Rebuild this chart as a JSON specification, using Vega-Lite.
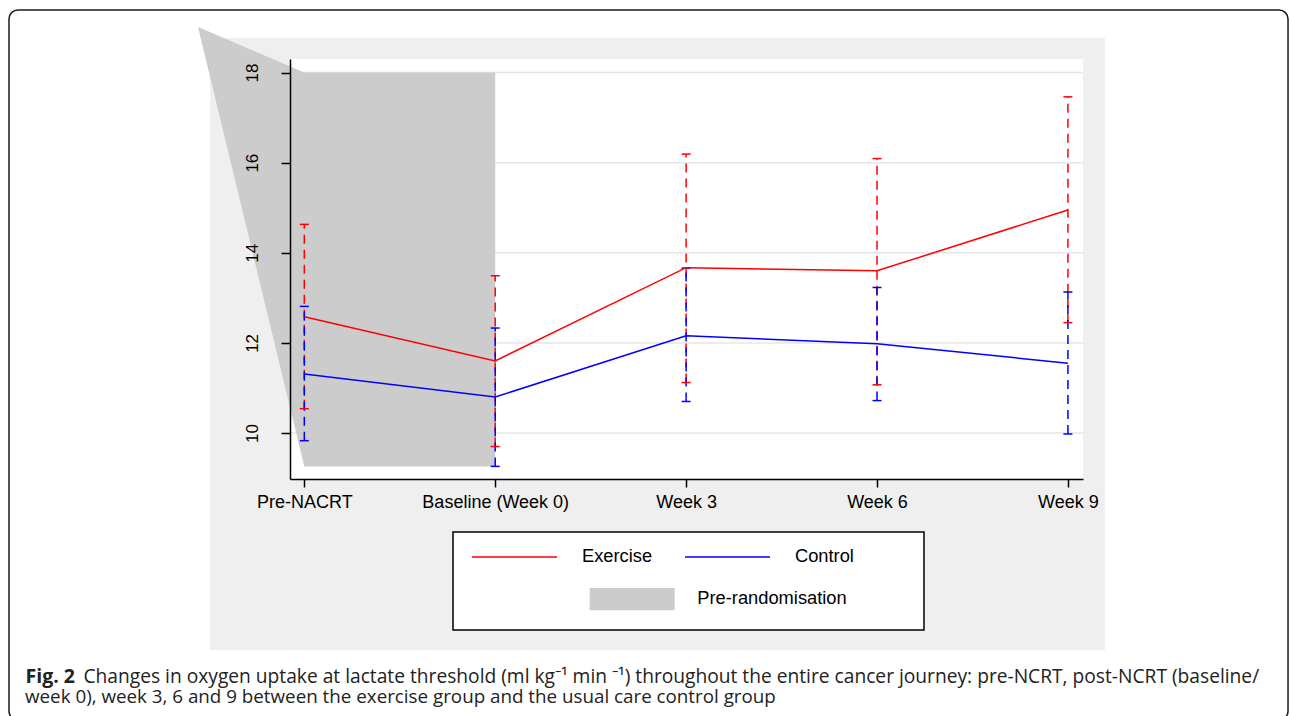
{
  "$schema": "https://vega.github.io/schema/vega-lite/v6.json",
  "width": 793,
  "height": 420,
  "autosize": {"type": "none"},
  "padding": {"left": 290, "top": 59, "right": 207, "bottom": 237},
  "background": "white",
  "config": {"view": {"stroke": null, "fill": "white"}},
  "title": {
    "text": "week 0), week 3, 6 and 9 between the exercise group and the usual care control group",
    "orient": "bottom", "anchor": "start", "frame": "group",
    "font": "Open Sans", "fontSize": 18.8, "fontWeight": "normal", "color": "#222222",
    "baseline": "alphabetic", "offset": 0, "dx": -265, "dy": -18
  },
  "datasets": {
    "series": [
      {"time": "Pre-NACRT", "idx": 0, "group": "Exercise", "mean": 12.58, "lo": 10.54, "hi": 14.63},
      {"time": "Baseline (Week 0)", "idx": 1, "group": "Exercise", "mean": 11.60, "lo": 9.70, "hi": 13.49},
      {"time": "Week 3", "idx": 2, "group": "Exercise", "mean": 13.67, "lo": 11.12, "hi": 16.19},
      {"time": "Week 6", "idx": 3, "group": "Exercise", "mean": 13.60, "lo": 11.07, "hi": 16.09},
      {"time": "Week 9", "idx": 4, "group": "Exercise", "mean": 14.95, "lo": 12.45, "hi": 17.46},
      {"time": "Pre-NACRT", "idx": 0, "group": "Control", "mean": 11.31, "lo": 9.83, "hi": 12.81},
      {"time": "Baseline (Week 0)", "idx": 1, "group": "Control", "mean": 10.80, "lo": 9.26, "hi": 12.33},
      {"time": "Week 3", "idx": 2, "group": "Control", "mean": 12.16, "lo": 10.70, "hi": 13.66},
      {"time": "Week 6", "idx": 3, "group": "Control", "mean": 11.98, "lo": 10.72, "hi": 13.23},
      {"time": "Week 9", "idx": 4, "group": "Control", "mean": 11.55, "lo": 9.98, "hi": 13.13}
    ],
    "shade": [
      {"idx": -0.557, "group": "Pre-randomisation", "top": 19.01, "bottom": 19.01},
      {"idx": 0, "group": "Pre-randomisation", "top": 18, "bottom": 9.26},
      {"idx": 1, "group": "Pre-randomisation", "top": 18, "bottom": 9.26}
    ],
    "grid": [{"g": 10}, {"g": 12}, {"g": 14}, {"g": 16}, {"g": 18}]
  },
  "layer": [
    {
      "data": {"values": [{}]},
      "mark": {"type": "rect", "fill": "transparent", "stroke": "#1a1a1a", "strokeWidth": 1.5, "cornerRadius": 9},
      "encoding": {
        "x": {"datum": -1.547, "type": "quantitative"},
        "x2": {"datum": 5.153},
        "y": {"datum": 19.387, "type": "quantitative"},
        "y2": {"datum": 3.632}
      }
    },
    {
      "data": {"values": [{}]},
      "mark": {"type": "rect", "fill": "#efefef", "strokeWidth": 0},
      "encoding": {
        "x": {"datum": -0.494, "type": "quantitative"},
        "x2": {"datum": 4.194},
        "y": {"datum": 18.766, "type": "quantitative"},
        "y2": {"datum": 5.185}
      }
    },
    {
      "data": {"values": [{}]},
      "mark": {"type": "rect", "fill": "white", "strokeWidth": 0},
      "encoding": {
        "x": {"datum": -0.075, "type": "quantitative"},
        "x2": {"datum": 4.079},
        "y": {"datum": 18.3, "type": "quantitative"},
        "y2": {"datum": 8.98}
      }
    },
    {
      "data": {"values": [{}]},
      "mark": {"type": "rect", "fill": "white", "stroke": "black", "strokeWidth": 1.5},
      "encoding": {
        "x": {"datum": 0.7789, "type": "quantitative"},
        "x2": {"datum": 3.246},
        "y": {"datum": 7.804, "type": "quantitative"},
        "y2": {"datum": 5.629}
      }
    },
    {
      "data": {"name": "grid"},
      "mark": {"type": "rule", "stroke": "#e6e6e6", "strokeWidth": 1.5},
      "encoding": {
        "y": {"field": "g", "type": "quantitative"}
      }
    },
    {
      "data": {"name": "shade"},
      "mark": {"type": "area", "opacity": 1, "fillOpacity": 1},
      "encoding": {
        "x": {"field": "idx", "type": "quantitative"},
        "y": {"field": "top", "type": "quantitative"},
        "y2": {"field": "bottom"},
        "fill": {
          "field": "group", "type": "nominal",
          "scale": {"domain": ["Pre-randomisation"], "range": ["#cccccc"]},
          "legend": {
            "orient": "none", "legendX": 299, "legendY": 531, "title": null, "padding": 0,
            "symbolType": "M-1,-1.3H9V1.3H-1Z", "symbolSize": 289, "symbolStrokeWidth": 1,
            "labelFont": "Liberation Sans", "labelFontSize": 18.3, "labelColor": "black",
            "labelOffset": 90, "labelLimit": 400,
            "encode": {
              "symbols": {"update": {
                "fill": {"value": "#cccccc"},
                "stroke": {"value": "#bdbdbd"},
                "strokeWidth": {"value": 1},
                "opacity": {"value": 1}
              }}
            }
          }
        }
      }
    },
    {
      "data": {"name": "series"},
      "mark": {"type": "rule", "strokeWidth": 1.5, "strokeDash": [9, 6]},
      "encoding": {
        "x": {"field": "idx", "type": "quantitative"},
        "y": {"field": "lo", "type": "quantitative"},
        "y2": {"field": "hi"},
        "stroke": {"field": "group", "type": "nominal"}
      }
    },
    {
      "data": {"name": "series"},
      "mark": {"type": "point", "shape": "M-1,0H1", "size": 81, "filled": false, "strokeWidth": 1.5, "opacity": 1},
      "encoding": {
        "x": {"field": "idx", "type": "quantitative"},
        "y": {"field": "lo", "type": "quantitative"},
        "stroke": {"field": "group", "type": "nominal"}
      }
    },
    {
      "data": {"name": "series"},
      "mark": {"type": "point", "shape": "M-1,0H1", "size": 81, "filled": false, "strokeWidth": 1.5, "opacity": 1},
      "encoding": {
        "x": {"field": "idx", "type": "quantitative"},
        "y": {"field": "hi", "type": "quantitative"},
        "stroke": {"field": "group", "type": "nominal"}
      }
    },
    {
      "data": {"name": "series"},
      "mark": {"type": "line", "strokeWidth": 1.5},
      "encoding": {
        "x": {
          "field": "idx", "type": "quantitative",
          "scale": {"domain": [-0.075, 4.079], "nice": false, "zero": false},
          "axis": {
            "values": [0, 1, 2, 3, 4],
            "labelExpr": "['Pre-NACRT', 'Baseline (Week 0)', 'Week 3', 'Week 6', 'Week 9'][datum.value]",
            "grid": false,
            "domainColor": "black", "domainWidth": 1.5,
            "tickColor": "black", "tickWidth": 1.5, "tickSize": 8,
            "labelFont": "Liberation Sans", "labelFontSize": 18, "labelColor": "black",
            "labelPadding": 6, "labelFlush": false, "labelOverlap": false,
            "zindex": 1,
            "title": "Changes in oxygen uptake at lactate threshold (ml kg\u207b\u00b9 min \u207b\u00b9) throughout the entire cancer journey: pre-NCRT, post-NCRT (baseline/",
            "titleFont": "Open Sans", "titleFontSize": 19.2, "titleFontWeight": "normal", "titleColor": "#222222",
            "titleAlign": "left", "titleBaseline": "alphabetic",
            "titleX": -207, "titleY": 203
          }
        },
        "y": {
          "field": "mean", "type": "quantitative",
          "scale": {"domain": [8.98, 18.3], "nice": false, "zero": false},
          "axis": {
            "values": [10, 12, 14, 16, 18],
            "labelAngle": -90, "labelAlign": "center", "labelBaseline": "bottom",
            "grid": false,
            "domainColor": "black", "domainWidth": 1.5,
            "tickColor": "black", "tickWidth": 1.5, "tickSize": 9,
            "labelFont": "Liberation Sans", "labelFontSize": 17, "labelColor": "black",
            "labelPadding": 20,
            "zindex": 1,
            "title": "Fig. 2", "titleAngle": 0,
            "titleFont": "Open Sans", "titleFontSize": 19.5, "titleFontWeight": "bold", "titleColor": "#222222",
            "titleAlign": "left", "titleBaseline": "alphabetic",
            "titleX": -265, "titleY": 623
          }
        },
        "stroke": {
          "field": "group", "type": "nominal",
          "scale": {"domain": ["Exercise", "Control"], "range": ["#ff0000", "#0000ff"]},
          "legend": {
            "orient": "none", "legendX": 181, "legendY": 488.5,
            "direction": "horizontal", "title": null, "padding": 0,
            "symbolType": "M-1,0H9", "symbolSize": 289, "symbolStrokeWidth": 1.5,
            "labelFont": "Liberation Sans", "labelFontSize": 18.3, "labelColor": "black",
            "labelOffset": 92, "labelLimit": 400,
            "columnPadding": 29,
            "encode": {
              "symbols": {"update": {
                "fill": {"value": "transparent"},
                "strokeWidth": {"value": 1.5},
                "strokeDash": {"value": [1, 0]},
                "opacity": {"value": 1}
              }}
            }
          }
        }
      }
    }
  ]
}
